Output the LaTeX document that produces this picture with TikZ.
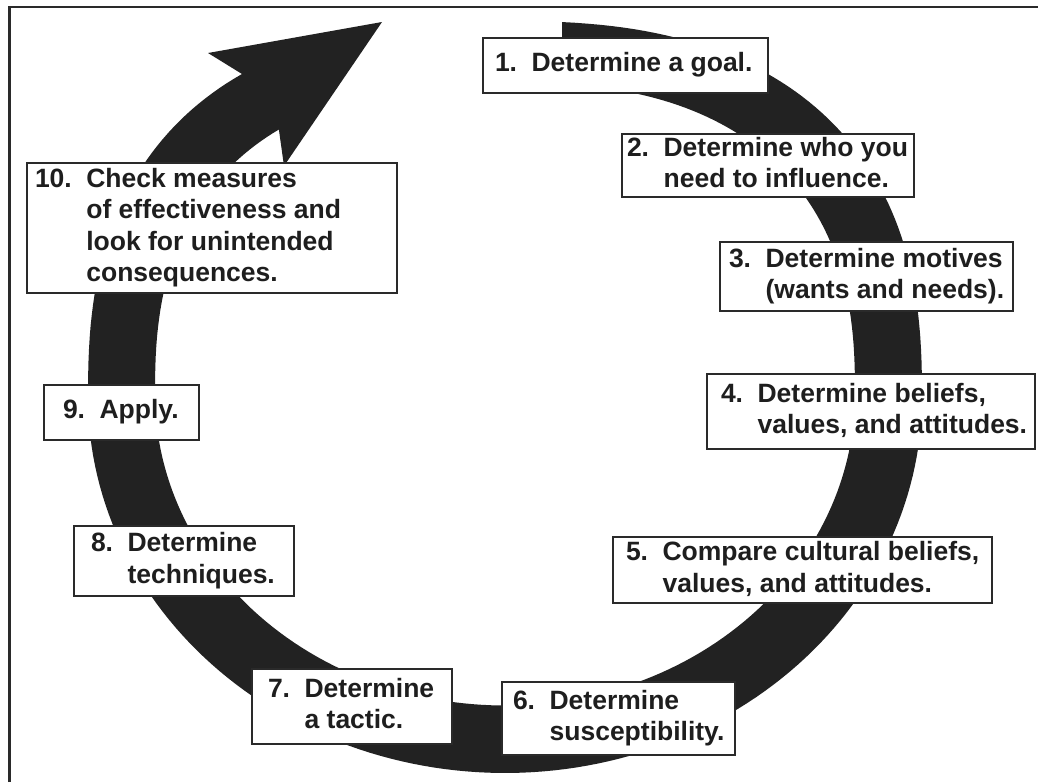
\documentclass[tikz,border=0pt]{standalone}
\usepackage{fontspec}
\setmainfont{Liberation Sans}
\definecolor{bandc}{HTML}{222222}
\definecolor{textc}{HTML}{1E1E1E}
\definecolor{linec}{HTML}{2A2A2A}
\newcommand{\stepfont}{\fontsize{26.5}{31.5}\selectfont\bfseries}
\newcommand{\steptext}[3]{\makebox[#1][l]{\begin{tabular}{@{}l@{\hspace{14.5pt}}l@{}}#2&\begin{tabular}[t]{@{}l@{}}#3\end{tabular}\end{tabular}}}
\begin{document}
\begin{tikzpicture}[x=1pt,y=-1pt,
  stepbox/.style={draw=linec, line width=2pt, fill=white, text=textc,
    anchor=north west, outer sep=0pt, inner ysep=0pt, font=\stepfont}]
\useasboundingbox (0,0) rectangle (1038,782);
% frame
\coordinate (fb) at (9.3,782);
\coordinate (fc) at (9.3,7);
\coordinate (fr) at (1038,7);
\draw[line width=2.6pt, linec] (fb) -- (fc) -- (fr);
% arrow head points
\coordinate (tip) at (382,22);
\coordinate (barbL) at (208,53);
\coordinate (barbR) at (284,166);
% circular band arrow
\fill[bandc]
  plot[domain=85.2:0, samples=60, variable=\t]
    ({505+417*cos(\t)*pow(max(abs(cos(\t)),0.0001),-0.2)},{397-376*sin(\t)*pow(max(abs(sin(\t)),0.0001),-0.2)})
  -- plot[domain=0:-180, samples=120, variable=\t]
    ({505+417*cos(\t)},{397-376*sin(\t)})
  -- plot[domain=-180:-235.8, samples=40, variable=\t]
    ({505+417*cos(\t)*pow(max(abs(cos(\t)),0.0001),-0.2)},{397-376*sin(\t)*pow(max(abs(sin(\t)),0.0001),-0.2)})
  -- (barbL) -- (tip) -- (barbR)
  -- plot[domain=-234.6:-180, samples=40, variable=\t]
    ({505+350*cos(\t)*pow(max(abs(cos(\t)),0.0001),-0.2)},{394-311.5*sin(\t)*pow(max(abs(sin(\t)),0.0001),-0.2)})
  -- plot[domain=-180:0, samples=120, variable=\t]
    ({505+350*cos(\t)},{394-311.5*sin(\t)})
  -- plot[domain=0:84.05, samples=60, variable=\t]
    ({505+350*cos(\t)*pow(max(abs(cos(\t)),0.0001),-0.2)},{394-311.5*sin(\t)*pow(max(abs(sin(\t)),0.0001),-0.2)})
  -- cycle;
% step boxes
\node[stepbox, inner xsep=12pt, minimum height=55pt] (s1) at (483,38)
  {\steptext{261pt}{1.}{Determine a goal.}};
\node[stepbox, inner xsep=5pt, minimum height=62pt] (s2) at (622,134)
  {\steptext{282pt}{2.}{Determine who you\\need to influence.}};
\node[stepbox, inner xsep=9pt, minimum height=69pt] (s3) at (720,242)
  {\steptext{275pt}{3.}{Determine motives\\(wants and needs).}};
\node[stepbox, inner xsep=14pt, minimum height=75pt] (s4) at (707,374)
  {\steptext{300pt}{4.}{Determine beliefs,\\values, and attitudes.}};
\node[stepbox, inner xsep=13pt, minimum height=66pt] (s5) at (613,537)
  {\steptext{353pt}{5.}{Compare cultural beliefs,\\values, and attitudes.}};
\node[stepbox, inner xsep=11pt, minimum height=73pt] (s6) at (502,682)
  {\steptext{211pt}{6.}{Determine\\susceptibility.}};
\node[stepbox, inner xsep=16pt, minimum height=75pt] (s7) at (252,669)
  {\steptext{168pt}{7.}{Determine\\a tactic.}};
\node[stepbox, inner xsep=17pt, minimum height=70pt] (s8) at (74,526)
  {\steptext{186pt}{8.}{Determine\\techniques.}};
\node[stepbox, inner xsep=19pt, minimum height=55pt] (s9) at (44,385)
  {\steptext{117pt}{9.}{Apply.}};
\node[stepbox, inner xsep=8pt, minimum height=130pt] (s10) at (27,163)
  {\steptext{354pt}{10.}{Check measures\\of effectiveness and\\look for unintended\\consequences.}};
\end{tikzpicture}
\end{document}
